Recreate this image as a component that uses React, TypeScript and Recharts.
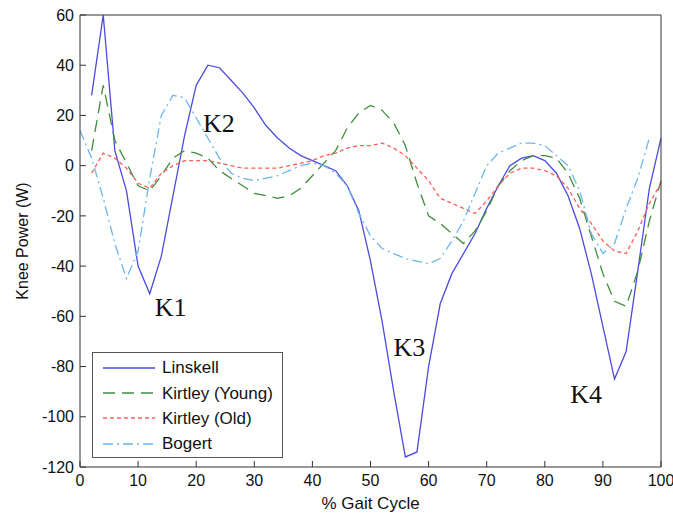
import { LineChart, Line, XAxis, YAxis, Legend, ReferenceDot } from 'recharts';

// % gait cycle sample points
const gaitPct = [
  0, 2, 4, 6, 8, 10, 12, 14, 16, 18, 20, 22, 24, 26, 28, 30, 32, 34, 36, 38, 40,
  42, 44, 46, 48, 50, 52, 54, 56, 58, 60, 62, 64, 66, 68, 70, 72, 74, 76, 78, 80,
  82, 84, 86, 88, 90, 92, 94, 96, 98, 100,
];

// knee power (W)
const linskell = [
  null, 28, 60, 6, -10, -40, -51, -36, -12, 12, 32, 40, 39, 34, 29, 23, 16, 11, 7, 4, 2,
  0, -2, -8, -18, -38, -62, -90, -116, -114, -80, -55, -43, -35, -27, -17, -8, 0, 3, 4, 2,
  -3, -12, -25, -43, -64, -85, -74, -42, -9, 11,
];
const kirtleyYoung = [
  null, 6, 32, 10, 1, -8, -10, -4, 3, 6, 5, 3, -2, -5, -8, -11, -12, -13, -12, -9, -4,
  1, 6, 15, 21, 24, 22, 17, 8, -7, -20, -23, -27, -31, -26, -18, -8, -2, 2, 4, 4,
  3, -3, -13, -28, -43, -54, -56, -42, -22, -6,
];
const kirtleyOld = [
  null, -3, 5, 3, -1, -7, -9, -3, 0, 2, 2, 2, 1, 0, -1, -1, -1, -1, 0, 1, 2,
  4, 5, 7, 8, 8, 9, 7, 4, -1, -6, -13, -15, -17, -19, -14, -8, -3, -1, -1, -2,
  -4, -9, -17, -23, -30, -34, -35, -26, -15, -7,
];
const bogert = [
  14, 3, -13, -31, -45, -34, -5, 20, 28, 27, 19, 11, 3, -3, -5, -6, -5, -4, -2, 0, 1,
  0, -3, -8, -19, -28, -33, -35, -37, -38, -39, -37, -30, -22, -11, 0, 5, 7, 9, 9, 8,
  4, 0, -10, -27, -35, -31, -17, -5, 11, null,
];

const xTicks = [0, 10, 20, 30, 40, 50, 60, 70, 80, 90, 100];
const yTicks = [60, 40, 20, 0, -20, -40, -60, -80, -100, -120];

const peakLabels = [
  { name: 'K1', x: 15.6, y: -56 },
  { name: 'K2', x: 23.9, y: 17 },
  { name: 'K3', x: 56.7, y: -72 },
  { name: 'K4', x: 87.1, y: -91 },
];

const SERIES = [
  { key: 'linskell', name: 'Linskell', color: '#4b4bde', dash: undefined },
  { key: 'young', name: 'Kirtley (Young)', color: '#3f8c3f', dash: '12 7' },
  { key: 'old', name: 'Kirtley (Old)', color: '#ff5c5c', dash: '4 3' },
  { key: 'bogert', name: 'Bogert', color: '#6cb6ea', dash: '10 4 2 4' },
];

const rows = gaitPct.map((x, i) => ({
  x,
  linskell: linskell[i],
  young: kirtleyYoung[i],
  old: kirtleyOld[i],
  bogert: bogert[i],
}));

const SANS = '"Liberation Sans", Arial, sans-serif';
const AXIS = '#333';

function LegendBox() {
  return (
    <div
      style={{
        width: 191,
        height: 106,
        border: '1px solid #555',
        background: '#fff',
        boxSizing: 'border-box',
        padding: '2px 0 0 10px',
      }}
    >
      {SERIES.map((s) => (
        <div key={s.key} style={{ display: 'flex', alignItems: 'center', height: 25.4 }}>
          <svg width={52} height={4} style={{ display: 'block' }}>
            <line x1={0} y1={2} x2={52} y2={2} stroke={s.color} strokeWidth={1.3} strokeDasharray={s.dash} />
          </svg>
          <span style={{ marginLeft: 7, fontSize: 17, fontFamily: SANS, color: '#111', lineHeight: 1 }}>
            {s.name}
          </span>
        </div>
      ))}
    </div>
  );
}

export default function App() {
  return (
    <div style={{ position: 'absolute', left: 0, top: 0, width: 673, height: 514, background: '#fff' }}>
      <LineChart width={673} height={514} data={rows} margin={{ top: 14, right: 11, left: 0, bottom: 0 }}>
        <XAxis
          dataKey="x"
          type="number"
          domain={[0, 100]}
          ticks={xTicks}
          interval={0}
          height={47}
          tickSize={-6}
          tickMargin={14}
          stroke={AXIS}
          tick={{ fill: '#111', fontSize: 16, fontFamily: SANS }}
          label={{ value: '% Gait Cycle', position: 'insideBottom', offset: 5, fontSize: 17, fill: '#111', fontFamily: SANS }}
        />
        <XAxis
          xAxisId="top"
          orientation="top"
          dataKey="x"
          type="number"
          domain={[0, 100]}
          ticks={xTicks}
          interval={0}
          height={1}
          tickSize={-6}
          tick={false}
          stroke={AXIS}
        />
        <YAxis
          type="number"
          domain={[-120, 60]}
          ticks={yTicks}
          interval={0}
          width={80}
          tickSize={-6}
          tickMargin={12}
          stroke={AXIS}
          tick={{ fill: '#111', fontSize: 16, fontFamily: SANS }}
          label={{ value: 'Knee Power (W)', angle: -90, position: 'center', dx: -18, fontSize: 16, fill: '#111', fontFamily: SANS }}
        />
        <YAxis
          yAxisId="right"
          orientation="right"
          type="number"
          domain={[-120, 60]}
          ticks={yTicks}
          interval={0}
          width={1}
          tickSize={-6}
          tick={false}
          stroke={AXIS}
        />
        {SERIES.map((s) => (
          <Line
            key={s.key}
            dataKey={s.key}
            name={s.name}
            stroke={s.color}
            strokeWidth={1.3}
            strokeDasharray={s.dash}
            dot={false}
            activeDot={false}
            isAnimationActive={false}
          />
        ))}
        {peakLabels.map((p) => (
          <ReferenceDot
            key={p.name}
            x={p.x}
            y={p.y}
            r={0}
            fill="none"
            stroke="none"
            ifOverflow="visible"
            label={{ value: p.name, position: 'center', fontSize: 26, fill: '#111', fontFamily: '"Liberation Serif", "Times New Roman", serif' }}
          />
        ))}
        <Legend
          layout="vertical"
          align="center"
          verticalAlign="middle"
          wrapperStyle={{ left: 92, top: 352, width: 191, height: 106 }}
          content={() => <LegendBox />}
        />
      </LineChart>
    </div>
  );
}
